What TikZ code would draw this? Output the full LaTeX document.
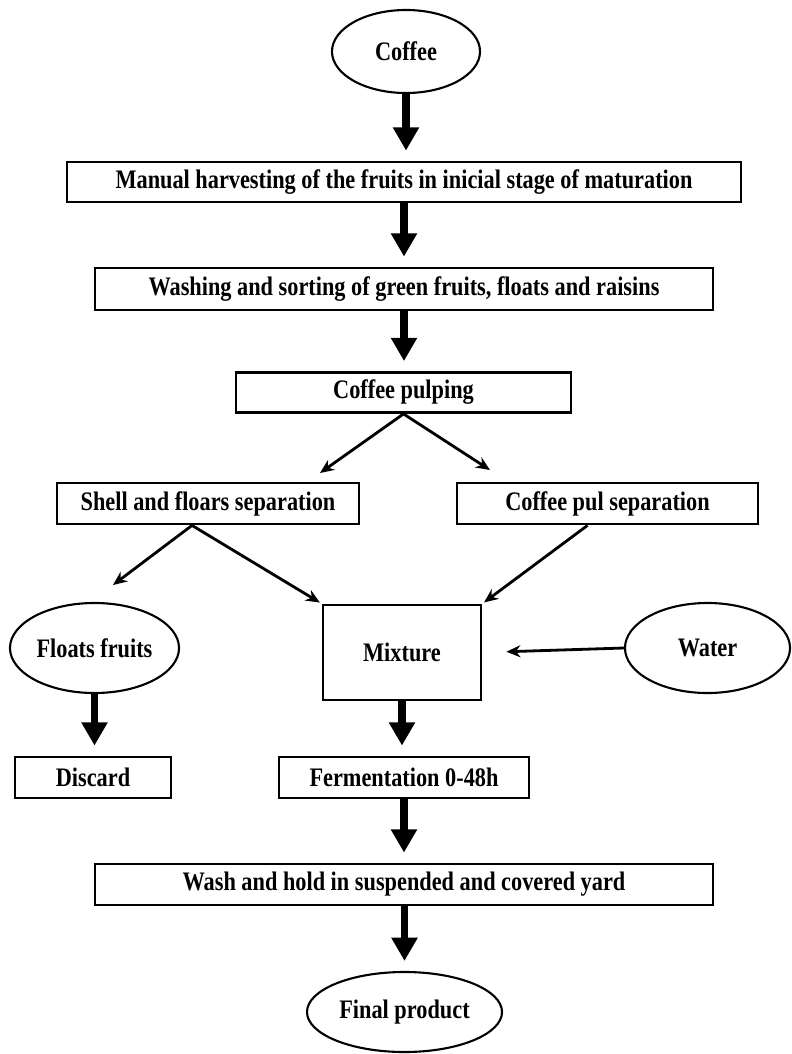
\documentclass[tikz,border=0pt]{standalone}
\usepackage{fontspec}
\setmainfont{Liberation Serif}[FakeStretch=0.835]
\usetikzlibrary{arrows.meta,shapes,positioning}

\tikzset{
  box/.style = {draw, line width = 2pt, inner sep = 0pt, font = \fontsize{19}{22}\selectfont\bfseries},
  oval/.style = {draw, ellipse, line width = 1.5pt, inner sep = 0pt, font = \fontsize{19}{22}\selectfont\bfseries},
  bigarrow/.style = {line width = 5pt, -{Triangle[length=.58cm, width=.62cm]}, shorten > = .25cm},
  thinarrow/.style = {line width = 2pt, -{Stealth[length=.35cm, width=.3cm]}}
}

\begin{document}
\begin{tikzpicture}[x = .025cm, y = -.025cm]
\useasboundingbox (0,0) rectangle (791,1054);

\node[oval, minimum width = 3.7cm, minimum height = 2.075cm] (coffee) at (406,51.5) {Coffee};
\node[box, minimum width = 16.85cm, minimum height = 1cm] (harvest) at (404,182) {Manual harvesting of the fruits in inicial stage of maturation};
\node[box, minimum width = 15.45cm, minimum height = 1.05cm] (sorting) at (404,289) {Washing and sorting of green fruits, floats and raisins};
\node[box, minimum width = 8.375cm, minimum height = 1cm] (pulping) at (403.5,392.5) {Coffee pulping};
\node[box, minimum width = 7.55cm, minimum height = 1.025cm] (shell) at (208,503.5) {Shell and floars separation};
\node[box, minimum width = 7.525cm, minimum height = 1.025cm] (pulsep) at (607.5,503.5) {Coffee pul separation};
\node[oval, minimum width = 4.225cm, minimum height = 2.25cm] (floats) at (94.5,648) {Floats fruits};
\node[box, minimum width = 3.95cm, minimum height = 2.375cm] (mixture) at (402,652.5) {Mixture};
\node[oval, minimum width = 4.125cm, minimum height = 2.25cm] (water) at (707.5,648) {Water};
\node[box, minimum width = 3.9cm, minimum height = 1.025cm] (discard) at (93,777.5) {Discard};
\node[box, minimum width = 6.25cm, minimum height = 1.025cm] (ferment) at (404,777.5) {Fermentation 0-48h};
\node[box, minimum width = 15.45cm, minimum height = 1.025cm] (yard) at (404,884.5) {Wash and hold in suspended and covered yard};
\node[oval, minimum width = 4.875cm, minimum height = 2cm] (final) at (404.5,1012) {Final product};

\coordinate (toshell) at (320,473);
\coordinate (topul) at (490,470);
\coordinate (tofloats) at (113,585);

\draw[bigarrow] (coffee.south) -- (coffee.south |- harvest.north);
\draw[bigarrow] (harvest) -- (sorting);
\draw[bigarrow] (sorting.south) -- (sorting.south |- pulping.north);
\draw[thinarrow] (pulping.south) -- (toshell);
\draw[thinarrow] (pulping.south) -- (topul);
\draw[thinarrow] ([xshift=-.4cm]shell.south) -- (tofloats);
\draw[thinarrow, shorten > = .05cm] ([xshift=-.4cm]shell.south) -- (mixture.north west);
\draw[thinarrow, shorten > = .05cm] ([xshift=-.5cm]pulsep.south) -- (mixture.north east);
\draw[thinarrow, shorten > = .6cm] (water.west) -- (mixture.east);
\draw[bigarrow] (floats.south) -- (floats.south |- discard.north);
\draw[bigarrow] (mixture.south) -- (mixture.south |- ferment.north);
\draw[bigarrow] (ferment) -- (yard);
\draw[bigarrow] (yard.south -| final) -- (final);
\end{tikzpicture}
\end{document}
